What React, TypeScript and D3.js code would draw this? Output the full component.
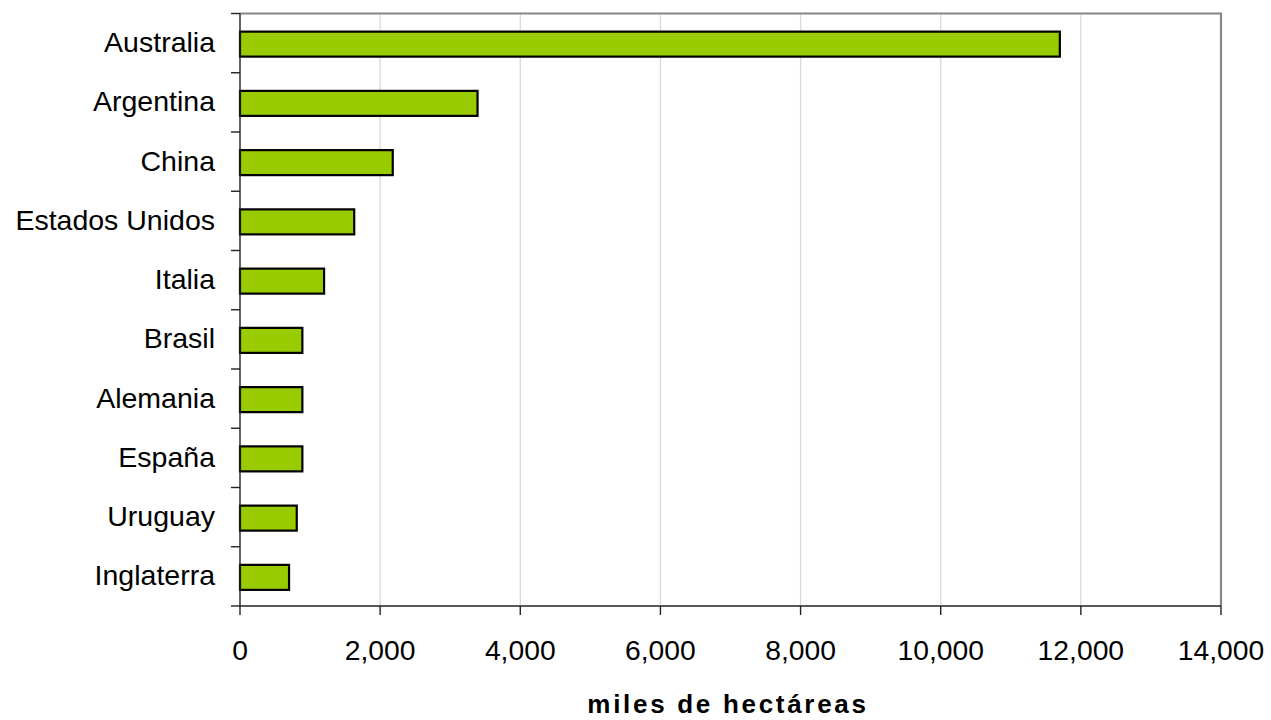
import React from "react";
import * as d3 from "d3";

const categories = [
  "Australia",
  "Argentina",
  "China",
  "Estados Unidos",
  "Italia",
  "Brasil",
  "Alemania",
  "España",
  "Uruguay",
  "Inglaterra",
];
const values = [11700, 3390, 2180, 1630, 1200, 890, 890, 890, 810, 700];
const xTicks = [0, 2000, 4000, 6000, 8000, 10000, 12000, 14000];
const axisTitle = "miles de hectáreas";

const W = 1271;
const H = 720;
const left = 240;
const right = 1221;
const top = 13.5;
const bottom = 606;

export default function App() {
  const x = d3.scaleLinear().domain([0, 14000]).range([left, right]);
  const y = d3
    .scaleBand<string>()
    .domain(categories)
    .range([top, bottom])
    .paddingInner(0)
    .paddingOuter(0);
  const bw = y.bandwidth();
  const barH = 25;
  const fmt = d3.format(",");
  const font = "'Liberation Sans', Arial, sans-serif";

  return (
    <div style={{ position: "fixed", left: 0, top: 0, width: W, height: H, background: "#fff" }}>
      <svg width={W} height={H} style={{ display: "block" }}>
        {/* gridlines */}
        {xTicks.slice(1, -1).map((t) => (
          <line key={t} x1={x(t)} x2={x(t)} y1={top} y2={bottom} stroke="#d9d9d9" strokeWidth={1.3} />
        ))}
        {/* top & right border */}
        <path
          d={`M${left},${top} H${right} V${bottom}`}
          fill="none"
          stroke="#868686"
          strokeWidth={2.2}
        />
        {/* bars */}
        {categories.map((c, i) => (
          <rect
            key={c}
            x={x(0)}
            y={(y(c) as number) + bw / 2 - barH / 2 + 1}
            width={x(values[i]) - x(0)}
            height={barH}
            fill="#99cc00"
            stroke="#000"
            strokeWidth={2.2}
          />
        ))}
        {/* left axis */}
        <line x1={left} x2={left} y1={top} y2={bottom} stroke="#222" strokeWidth={1.4} />
        {[...categories.map((c) => y(c) as number), bottom].map((yy, i) => (
          <line key={i} x1={left - 9} x2={left} y1={yy} y2={yy} stroke="#222" strokeWidth={1.4} />
        ))}
        {/* bottom axis */}
        <line x1={left} x2={right} y1={bottom} y2={bottom} stroke="#222" strokeWidth={1.6} />
        {xTicks.map((t) => (
          <line key={t} x1={x(t)} x2={x(t)} y1={bottom} y2={bottom + 9} stroke="#222" strokeWidth={1.4} />
        ))}
        {/* category labels */}
        {categories.map((c) => (
          <text
            key={c}
            x={left - 25}
            y={(y(c) as number) + bw / 2 + 9}
            textAnchor="end"
            fontFamily={font}
            fontSize={28.5}
            fill="#000"
          >
            {c}
          </text>
        ))}
        {/* x tick labels */}
        {xTicks.map((t) => (
          <text
            key={t}
            x={x(t)}
            y={660}
            textAnchor="middle"
            fontFamily={font}
            fontSize={28.3}
            fill="#000"
          >
            {fmt(t)}
          </text>
        ))}
        {/* axis title */}
        <text
          x={728}
          y={713}
          textAnchor="middle"
          fontFamily={font}
          fontSize={26}
          fontWeight="bold"
          letterSpacing={2.7}
          fill="#000"
        >
          {axisTitle}
        </text>
      </svg>
    </div>
  );
}
